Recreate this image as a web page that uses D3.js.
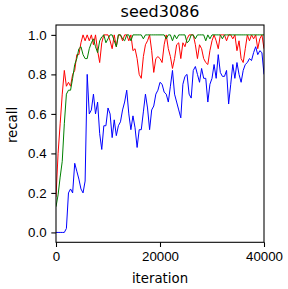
<!DOCTYPE html>
<html>
<head>
<meta charset="utf-8">
<script src="https://cdn.jsdelivr.net/npm/d3@7"></script>
<style>
  body { margin: 0; background: #fff; }
  svg { display: block; font-family: "DejaVu Sans", sans-serif; }
</style>
</head>
<body>
<div id="chart"></div>
<script>
// logged every 400 iterations
const iterations = d3.range(0, 40001, 400);

const blueRecall = [
  0.0, 0.0, 0.0, 0.0, 0.0, 0.02, 0.20, 0.22, 0.20, 0.35,
  0.31, 0.27, 0.22, 0.20, 0.26, 0.80, 0.60, 0.62, 0.70, 0.60,
  0.66, 0.50, 0.42, 0.54, 0.54, 0.63, 0.60, 0.48, 0.57, 0.49,
  0.54, 0.56, 0.62, 0.66, 0.72, 0.60, 0.52, 0.59, 0.53, 0.43,
  0.52, 0.52, 0.61, 0.70, 0.63, 0.52, 0.62, 0.64, 0.70, 0.72,
  0.76, 0.75, 0.71, 0.70, 0.66, 0.74, 0.82, 0.70, 0.66, 0.62,
  0.58, 0.75, 0.79, 0.80, 0.70, 0.68, 0.82, 0.84, 0.80, 0.76,
  0.83, 0.78, 0.78, 0.66, 0.75, 0.78, 0.85, 0.78, 0.90, 0.81,
  0.79, 0.79, 0.82, 0.65, 0.75, 0.85, 0.78, 0.86, 0.80, 0.76,
  0.82, 0.85, 0.86, 0.88, 0.87, 0.91, 0.94, 0.90, 0.92, 0.91,
  0.80
];

const redRecall = [
  0.18, 0.40, 0.55, 0.70, 0.82, 0.74, 0.76, 0.74, 0.80, 0.82,
  0.90, 0.90, 0.96, 1.0, 0.97, 1.0, 0.97, 1.0, 0.95, 1.0,
  0.92, 0.86, 0.96, 1.0, 1.0, 1.0, 0.97, 0.93, 1.0, 0.94,
  1.0, 1.0, 0.97, 1.0, 1.0, 0.97, 1.0, 0.92, 0.93, 0.88,
  0.80, 0.78, 0.89, 0.95, 0.97, 1.0, 0.92, 0.81, 0.88, 0.89,
  0.88, 0.86, 0.95, 1.0, 0.93, 0.89, 0.83, 0.88, 0.95, 0.96,
  0.88, 0.96, 0.94, 0.98, 1.0, 1.0, 1.0, 0.95, 0.88, 0.95,
  0.93, 0.88, 0.86, 0.85, 0.92, 0.97, 1.0, 0.97, 0.93, 1.0,
  1.0, 1.0, 0.97, 1.0, 1.0, 0.98, 1.0, 0.92, 0.97, 0.88,
  0.86, 0.93, 1.0, 0.97, 1.0, 0.98, 1.0, 0.93, 0.98, 1.0,
  0.93
];

const greenRecall = [
  0.13, 0.19, 0.28, 0.36, 0.55, 0.70, 0.72, 0.72, 0.78, 0.85,
  0.88, 0.93, 0.94, 0.90, 0.88, 0.88, 0.93, 0.96, 0.98, 0.94,
  0.91, 0.97, 0.99, 1.0, 0.96, 0.98, 1.0, 1.0, 0.97, 0.94,
  1.0, 1.0, 0.98, 0.97, 1.0, 1.0, 0.97, 1.0, 1.0, 1.0,
  1.0, 1.0, 0.98, 1.0, 1.0, 1.0, 1.0, 1.0, 1.0, 1.0,
  1.0, 1.0, 1.0, 0.98, 1.0, 1.0, 0.97, 1.0, 0.98, 1.0,
  1.0, 1.0, 1.0, 0.96, 0.97, 1.0, 1.0, 0.98, 1.0, 1.0,
  1.0, 1.0, 0.97, 1.0, 0.98, 1.0, 1.0, 1.0, 1.0, 1.0,
  0.98, 1.0, 1.0, 1.0, 1.0, 1.0, 1.0, 1.0, 1.0, 1.0,
  1.0, 1.0, 1.0, 1.0, 1.0, 1.0, 1.0, 1.0, 1.0, 1.0,
  1.0
];

const xTicks = [0, 20000, 40000];
const yTicks = [0.0, 0.2, 0.4, 0.6, 0.8, 1.0];

const series = [
  { values: blueRecall, color: '#0000ff' },
  { values: redRecall, color: '#ff0000' },
  { values: greenRecall, color: '#008000' }
];

const width = 288;
const height = 289;
const margin = { top: 25, right: 24, bottom: 46.7, left: 56 };

const svg = d3.select('#chart')
  .append('svg')
  .attr('width', width)
  .attr('height', height);

const x = d3.scaleLinear()
  .domain([0, 40000])
  .range([margin.left, width - margin.right]);

const y = d3.scaleLinear()
  .domain([-0.05, 1.05])
  .range([height - margin.bottom, margin.top]);

const line = d3.line()
  .x((d, i) => x(iterations[i]))
  .y(d => y(d));

svg.append('defs').append('clipPath')
  .attr('id', 'plot')
  .append('rect')
  .attr('x', margin.left)
  .attr('y', margin.top)
  .attr('width', width - margin.left - margin.right)
  .attr('height', height - margin.top - margin.bottom);

const plot = svg.append('g').attr('clip-path', 'url(#plot)');
series.forEach(s => {
  plot.append('path')
    .datum(s.values)
    .attr('fill', 'none')
    .attr('stroke', s.color)
    .attr('stroke-width', 1)
    .attr('stroke-linejoin', 'round')
    .attr('d', line);
});

svg.append('g')
  .attr('transform', `translate(0,${height - margin.bottom})`)
  .call(d3.axisBottom(x).tickValues(xTicks).tickFormat(d3.format('d')).tickSize(4.7).tickPadding(4.7))
  .call(g => g.select('.domain').remove())
  .call(g => g.selectAll('line').attr('stroke', '#000').attr('stroke-width', 1.07))
  .call(g => g.selectAll('text').attr('fill', '#000').style('font-size', '13.3px'));

svg.append('g')
  .attr('transform', `translate(${margin.left},0)`)
  .call(d3.axisLeft(y).tickValues(yTicks).tickFormat(d3.format('.1f')).tickSize(4.7).tickPadding(4.7))
  .call(g => g.select('.domain').remove())
  .call(g => g.selectAll('line').attr('stroke', '#000').attr('stroke-width', 1.07))
  .call(g => g.selectAll('text').attr('fill', '#000').style('font-size', '13.3px'));

svg.append('rect')
  .attr('x', margin.left)
  .attr('y', margin.top)
  .attr('width', width - margin.left - margin.right)
  .attr('height', height - margin.top - margin.bottom)
  .attr('fill', 'none')
  .attr('stroke', '#000')
  .attr('stroke-width', 1.07);

svg.append('text')
  .attr('x', (margin.left + width - margin.right) / 2)
  .attr('y', 17)
  .attr('text-anchor', 'middle')
  .style('font-size', '16px')
  .text('seed3086');

svg.append('text')
  .attr('x', (margin.left + width - margin.right) / 2)
  .attr('y', 283)
  .attr('text-anchor', 'middle')
  .style('font-size', '13.3px')
  .text('iteration');

svg.append('text')
  .attr('transform', 'translate(17,125) rotate(-90)')
  .attr('text-anchor', 'middle')
  .style('font-size', '13.3px')
  .text('recall');
</script>
</body>
</html>
